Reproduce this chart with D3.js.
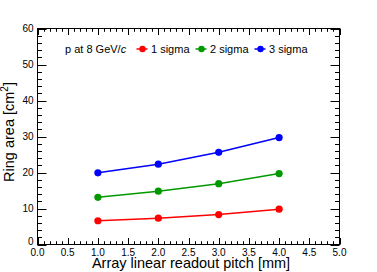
<!DOCTYPE html>
<html>
<head>
<meta charset="utf-8">
<script src="https://cdn.jsdelivr.net/npm/d3@7"></script>
<style>
  body { margin: 0; background: #fff; }
  text { font-family: "Liberation Sans", Arial, sans-serif; fill: #000; }
</style>
</head>
<body>
<svg width="377" height="272"></svg>
<script>
// data
var pitch = [1.0, 2.0, 3.0, 4.0];
var sigma1 = [6.6, 7.3, 8.3, 9.8];
var sigma2 = [13.1, 14.8, 16.9, 19.7];
var sigma3 = [19.9, 22.3, 25.6, 29.7];
var seriesNames = ["1 sigma", "2 sigma", "3 sigma"];
var seriesColors = ["#ff0000", "#009900", "#0000ff"];
var xTicks = [0, 0.5, 1, 1.5, 2, 2.5, 3, 3.5, 4, 4.5, 5];
var yTicks = [0, 10, 20, 30, 40, 50, 60];

var svg = d3.select("svg");
var padL = 37.5, padR = 339.5, padT = 28.5, padB = 244.5;

var x = d3.scaleLinear().domain([0, 5]).range([padL, padR]);
var y = d3.scaleLinear().domain([0, 60]).range([padB, padT]);

// FRAME
svg.append("rect")
    .attr("x", padL).attr("y", padT)
    .attr("width", padR - padL).attr("height", padB - padT)
    .attr("fill", "none").attr("stroke", "#000").attr("stroke-width", 1);

// TICKS (root style, inside, on all four sides)
var ticks = svg.append("g").attr("stroke", "#000").attr("stroke-width", 1);
d3.range(0, 51).forEach(function(i) {
    var v = i / 10, px = Math.round(x(v)) + 0.5;
    var len = (i % 5 == 0) ? 6.5 : 3.3;
    ticks.append("line").attr("x1", px).attr("x2", px).attr("y1", padB).attr("y2", padB - len);
    ticks.append("line").attr("x1", px).attr("x2", px).attr("y1", padT).attr("y2", padT + len);
});
d3.range(0, 31).forEach(function(i) {
    var v = i * 2, py = Math.round(y(v)) + 0.5;
    var len = (i % 5 == 0) ? 9 : 4.5;
    ticks.append("line").attr("y1", py).attr("y2", py).attr("x1", padL).attr("x2", padL + len);
    ticks.append("line").attr("y1", py).attr("y2", py).attr("x1", padR).attr("x2", padR - len);
});

// TICK LABELS
svg.append("g").selectAll("text").data(xTicks).enter().append("text")
    .attr("x", function(d) { return x(d); })
    .attr("y", 255.5)
    .attr("text-anchor", "middle")
    .style("font-size", "10px")
    .text(function(d) { return d3.format(".1f")(d); });

svg.append("g").selectAll("text").data(yTicks).enter().append("text")
    .attr("x", 33.5)
    .attr("y", function(d) { return y(d) + (d == 0 ? 0 : 3.6); })
    .attr("text-anchor", "end")
    .style("font-size", "10px")
    .text(function(d) { return d; });

// AXIS TITLES
svg.append("text")
    .attr("x", 191).attr("y", 267.5)
    .attr("text-anchor", "middle")
    .style("font-size", "14.5px")
    .text("Array linear readout pitch [mm]");

var yt = svg.append("text")
    .attr("transform", "translate(13.5,132) rotate(-90)")
    .attr("text-anchor", "middle")
    .style("font-size", "14.5px");
yt.append("tspan").text("Ring area [cm");
yt.append("tspan").attr("dy", -5.5).style("font-size", "10px").text("2");
yt.append("tspan").attr("dy", 5.5).text("]");

// SERIES
var allSeries = [sigma1, sigma2, sigma3];
var line = d3.line()
    .x(function(d, i) { return x(pitch[i]); })
    .y(function(d) { return y(d); });

allSeries.forEach(function(s, k) {
    svg.append("path").datum(s)
        .attr("d", line)
        .attr("fill", "none")
        .attr("stroke", seriesColors[k])
        .attr("stroke-width", 1.5);
    svg.append("g").selectAll("circle").data(s).enter().append("circle")
        .attr("cx", function(d, i) { return x(pitch[i]); })
        .attr("cy", function(d) { return y(d); })
        .attr("r", 3.6)
        .attr("fill", seriesColors[k]);
});

// LEGEND
var lg = svg.append("text").attr("x", 65).attr("y", 53).style("font-size", "11px");
lg.append("tspan").text("p at 8 GeV/");
lg.append("tspan").style("font-style", "italic").text("c");

var legX = [142.5, 201.5, 260.5];
seriesNames.forEach(function(name, k) {
    var g = svg.append("g");
    g.append("line")
        .attr("x1", legX[k] - 6).attr("x2", legX[k] + 5)
        .attr("y1", 49).attr("y2", 49)
        .attr("stroke", seriesColors[k]).attr("stroke-width", 1.5);
    g.append("circle")
        .attr("cx", legX[k]).attr("cy", 49).attr("r", 3.2)
        .attr("fill", seriesColors[k]);
    g.append("text")
        .attr("x", legX[k] + 8.5).attr("y", 53)
        .style("font-size", "11px")
        .text(name);
});
</script>
</body>
</html>
